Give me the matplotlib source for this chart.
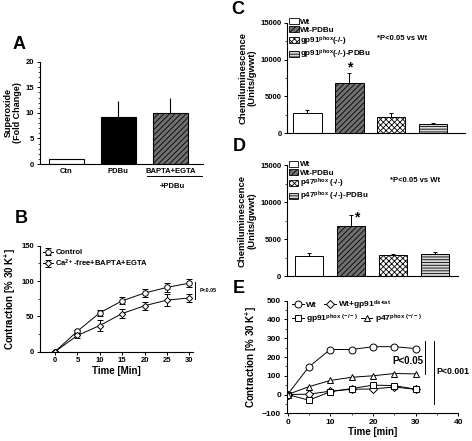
import numpy as np
import matplotlib
matplotlib.use("Agg")
import matplotlib.pyplot as plt
from matplotlib.patches import Rectangle
from matplotlib.ticker import MultipleLocator

# Data
a_labels = ["Ctn", "PDBu", "BAPTA+EGTA"]
a_vals = [1.0, 9.1, 9.9]
a_errs = [0.0, 3.2, 3.0]

b_time = [0, 5, 10, 15, 20, 25, 30]
b_control = [0, 29, 55, 72, 83, 91, 97]
b_control_err = [1, 2, 4, 5, 6, 6, 6]
b_cafree = [0, 23, 37, 54, 65, 73, 76]
b_cafree_err = [1, 3, 8, 7, 6, 8, 6]

c_labels = ["Wt", "Wt-PDBu", r"gp91$^{phox}$(-/-)", r"gp91$^{phox}$(-/-)-PDBu"]
c_vals = [2720, 6780, 2250, 1220]
c_errs = [440, 1440, 545, 220]

d_labels = ["Wt", "Wt-PDBu", r"p47$^{phox}$ (-/-)", r"p47$^{phox}$ (-/-)-PDBu"]
d_vals = [2700, 6760, 2800, 2970]
d_errs = [370, 1480, 210, 230]

e_time = [0, 5, 10, 15, 20, 25, 30]
e_wt = [0, 148, 240, 240, 255, 255, 245]
e_wt_ds = [0, 2, 18, 28, 30, 40, 28]
e_gp91 = [0, -30, 15, 32, 50, 48, 28]
e_p47 = [0, 42, 75, 92, 100, 112, 110]

plt.rcParams["font.family"] = ["Liberation Sans", "DejaVu Sans"]
plt.rcParams["font.weight"] = "bold"
plt.rcParams["axes.labelweight"] = "bold"
plt.rcParams["mathtext.fontset"] = "custom"
plt.rcParams["mathtext.rm"] = "Liberation Sans:bold"
plt.rcParams["mathtext.bf"] = "Liberation Sans:bold"
plt.rcParams["mathtext.default"] = "bf"
plt.rcParams["hatch.linewidth"] = 0.6
plt.rcParams["axes.linewidth"] = 0.8

fig = plt.figure(figsize=(4.72, 4.41), dpi=100)


def style_axis(ax, fs=5.5):
    ax.spines["top"].set_visible(False)
    ax.spines["right"].set_visible(False)
    ax.tick_params(direction="out", length=2.5, width=0.7, labelsize=fs, pad=1.5)
    ax.tick_params(which="minor", direction="out", length=1.3, width=0.5)


# Panel A
axA = fig.add_axes([0.0847, 0.6281, 0.3453, 0.232])
xa = np.arange(len(a_vals))
axA.bar(xa, a_vals, width=0.67, color=["white", "black", "#707070"],
        edgecolor="black", linewidth=0.8, hatch=[None, None, "//////"],
        yerr=[[0] * 3, a_errs], error_kw=dict(elinewidth=0.8, capsize=0, ecolor="black"))
axA.set_xlim(-0.51, 2.63)
axA.set_ylim(0, 20)
axA.set_yticks([0, 5, 10, 15, 20])
axA.yaxis.set_minor_locator(MultipleLocator(1))
axA.set_xticks(xa)
axA.set_xticklabels(a_labels)
style_axis(axA)
axA.tick_params(axis="x", length=0, pad=3)
axA.set_ylabel("Superoxide\n(Fold Change)", fontsize=6.5, labelpad=3, linespacing=1.0)
axA.plot([1.55, 2.62], [-0.115, -0.115], color="black", lw=0.7,
         transform=axA.get_xaxis_transform(), clip_on=False)
axA.text(2.05, -0.215, "+PDBu", transform=axA.get_xaxis_transform(), ha="center", va="center",
         fontsize=5.5)

# Panel B
axB = fig.add_axes([0.0847, 0.2025, 0.324, 0.2404])
axB.errorbar(b_time, b_control, yerr=b_control_err, fmt="-o", color="black", mfc="white",
             mec="black", ms=4, lw=0.7, mew=0.7, elinewidth=0.7, capsize=2, capthick=0.7,
             label="Control")
axB.errorbar(b_time, b_cafree, yerr=b_cafree_err, fmt="-D", color="black", mfc="white",
             mec="black", ms=3.2, lw=0.7, mew=0.7, elinewidth=0.7, capsize=2, capthick=0.7,
             label=r"Ca$^{2+}$-free+BAPTA+EGTA")
axB.set_xlim(-3.35, 30.8)
axB.set_ylim(0, 150)
axB.set_xticks(b_time)
axB.set_yticks([0, 50, 100, 150])
axB.yaxis.set_minor_locator(MultipleLocator(25))
style_axis(axB)
axB.set_xlabel("Time [Min]", fontsize=7, labelpad=1)
axB.set_ylabel(r"Contraction [% 30 K$^{+}$]", fontsize=7, labelpad=3)
axB.legend(loc="upper left", bbox_to_anchor=(0.02, 0.97), frameon=False, fontsize=5.5,
           handlelength=1.3, handletextpad=0.3, labelspacing=0.15, borderpad=0, borderaxespad=0)
axB.plot([31.3, 31.3], [74, 99], color="black", lw=0.7, clip_on=False)
axB.text(32.4, 87, "P<0.05", fontsize=3.8, va="center", ha="left")


def bar_panel(ax, vals, errs, labels, xlim, star_xy, note_xy):
    x = np.arange(len(vals))
    faces = ["white", "#707070", "white", "#d8d8d8"]
    hatches = [None, "//////", "xxxxxx", "------"]
    ax.bar(x, vals, width=0.68, color=faces, edgecolor="black", linewidth=0.7,
           hatch=hatches, yerr=[[0] * len(vals), errs],
           error_kw=dict(elinewidth=0.7, capsize=1.5, capthick=0.7, ecolor="black"))
    ax.set_xlim(*xlim)
    ax.set_ylim(0, 15000)
    ax.set_yticks([0, 5000, 10000, 15000])
    ax.yaxis.set_minor_locator(MultipleLocator(2500))
    ax.set_xticks([])
    style_axis(ax)
    ax.set_ylabel("Chemiluminescence\n(Units/gwwt)", fontsize=6.8, labelpad=3, linespacing=1.0)
    handles = [Rectangle((0, 0), 1, 1, facecolor=f, edgecolor="black", lw=0.6, hatch=h)
               for f, h in zip(faces, hatches)]
    ax.legend(handles, labels, loc="upper left", bbox_to_anchor=(0.01, 1.04), frameon=False,
              fontsize=5.8, handlelength=1.2, handleheight=0.8, handletextpad=0.2,
              labelspacing=0.02, borderpad=0, borderaxespad=0)
    ax.text(star_xy[0], star_xy[1], "*", fontsize=10, ha="center", va="center")
    ax.text(note_xy[0], note_xy[1], "*P<0.05 vs Wt", fontsize=5.5, ha="left", va="center")


# Panel C
axC = fig.add_axes([0.6087, 0.6977, 0.3765, 0.2508])
bar_panel(axC, c_vals, c_errs, c_labels, (-0.477, 3.76), (1.0, 8900), (1.66, 12800))

# Panel D
axD = fig.add_axes([0.608, 0.3741, 0.3623, 0.2517])
bar_panel(axD, d_vals, d_errs, d_labels, (-0.524, 3.55), (1.14, 7900), (1.93, 12900))

# Panel E
axE = fig.add_axes([0.6074, 0.0628, 0.3636, 0.2553])
mk = dict(color="black", mfc="white", mec="black", lw=0.7, mew=0.7)
l_wt, = axE.plot(e_time, e_wt, "-o", ms=5, **mk)
l_ds, = axE.plot(e_time, e_wt_ds, "-D", ms=3.8, **mk)
l_gp, = axE.plot(e_time, e_gp91, "-s", ms=4.5, **mk)
l_p47, = axE.plot(e_time, e_p47, "-^", ms=5, **mk)
axE.set_xlim(-0.2, 40)
axE.set_ylim(-100, 500)
axE.set_xticks([0, 10, 20, 30, 40])
axE.set_yticks(range(-100, 501, 100))
axE.xaxis.set_minor_locator(MultipleLocator(5))
axE.yaxis.set_minor_locator(MultipleLocator(50))
style_axis(axE, fs=6)
axE.set_xlabel("Time [min]", fontsize=7, labelpad=1)
axE.set_ylabel(r"Contraction [% 30 K$^{+}$]", fontsize=7, labelpad=2)
leg1 = axE.legend([l_wt, l_ds], ["Wt", r"Wt+gp91$^{ds\text{-}tat}$"], loc="center left",
                  bbox_to_anchor=(0.03, 0.962), ncol=2, frameon=False, fontsize=6,
                  handlelength=1.4, handletextpad=0.3, columnspacing=0.9, borderpad=0,
                  borderaxespad=0)
axE.add_artist(leg1)
axE.legend([l_gp, l_p47], [r"gp91$^{phox\ (-/-)}$", r"p47$^{phox\ (-/-)}$"], loc="center left",
           bbox_to_anchor=(0.03, 0.838), ncol=2, frameon=False, fontsize=6,
           handlelength=1.4, handletextpad=0.3, columnspacing=0.3, borderpad=0, borderaxespad=0)
axE.plot([32.2, 32.2], [110, 285], color="black", lw=0.7, clip_on=False)
axE.plot([34.3, 34.3], [-50, 285], color="black", lw=0.7, clip_on=False)
axE.text(31.7, 180, "P<0.05", fontsize=7, ha="right", va="center")
axE.text(34.9, 121, "P<0.001", fontsize=6.3, ha="left", va="center", clip_on=False)

# Panel letters
for lab, x, y in [("A", 0.027, 0.898), ("B", 0.031, 0.505), ("C", 0.49, 0.978),
                  ("D", 0.493, 0.668), ("E", 0.493, 0.345)]:
    fig.text(x, y, lab, fontsize=13, fontweight="bold", ha="left", va="center")

fig.savefig("out.png", dpi=100)
